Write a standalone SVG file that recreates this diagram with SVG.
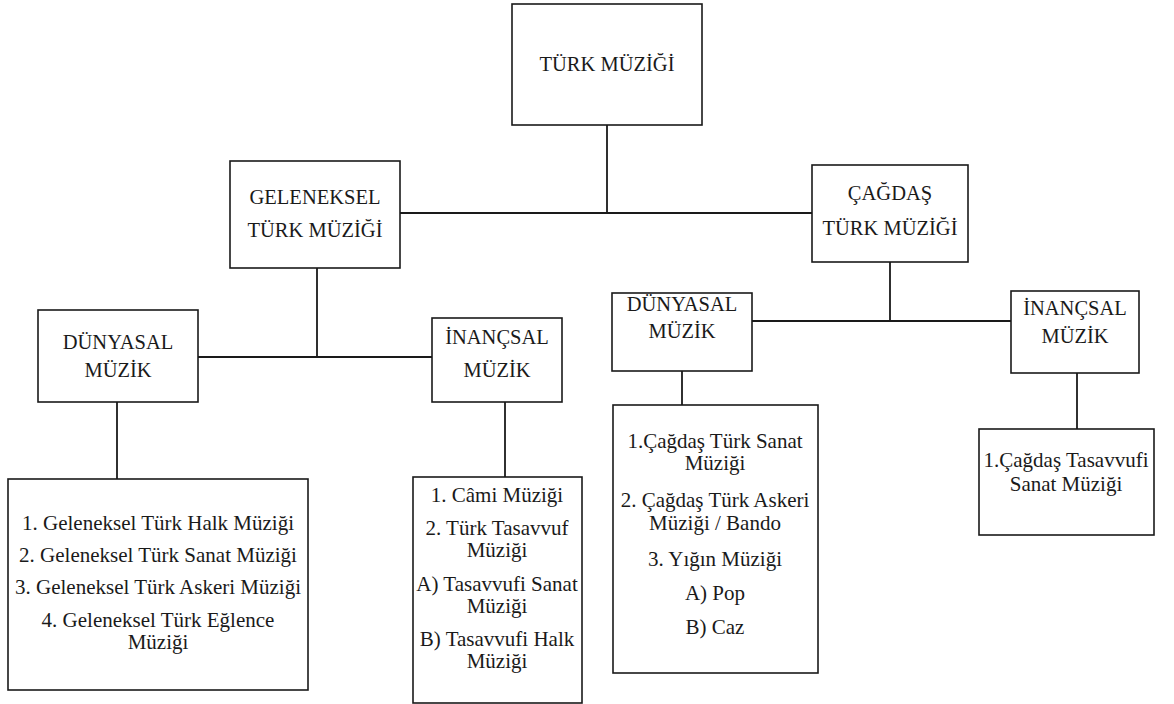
<svg xmlns="http://www.w3.org/2000/svg" width="1174" height="704" viewBox="0 0 1174 704" xml:space="preserve">
<style>
.box{fill:#fff;stroke:#1a1a1a;stroke-width:1.6}
.ln{fill:none;stroke:#1a1a1a;stroke-width:1.8}
.t{font-family:'Liberation Serif','Times New Roman','DejaVu Serif',serif;font-size:20.5px;fill:#1a1a1a;text-anchor:middle;white-space:pre}
.l{font-size:21px}
</style>
<rect width="1174" height="704" fill="#fff"/>
<g id="connectors">
<path class="ln" d="M607,125 V213 M400,213 H812"/>
<path class="ln" d="M317,268 V357 M198,357 H432"/>
<path class="ln" d="M890,262 V321 M752,321 H1011"/>
<path class="ln" d="M117,402 V479"/>
<path class="ln" d="M505,402 V477"/>
<path class="ln" d="M682,371 V405"/>
<path class="ln" d="M1077,373 V429"/>
</g>
<g class="t">
<g id="turk-muzigi">
<rect class="box" x="512" y="4" width="190" height="121"/>
<text x="607" y="71">TÜRK MÜZİĞİ</text>
</g>
<g id="geleneksel">
<rect class="box" x="230" y="161" width="170" height="107"/>
<text x="315" y="204">GELENEKSEL</text>
<text x="315" y="237">TÜRK MÜZİĞİ</text>
</g>
<g id="cagdas">
<rect class="box" x="812" y="165" width="156" height="97"/>
<text x="890" y="200">ÇAĞDAŞ</text>
<text x="890" y="235">TÜRK MÜZİĞİ</text>
</g>
<g id="dunyasal-1">
<rect class="box" x="38" y="310" width="160" height="92"/>
<text x="118" y="349">DÜNYASAL</text>
<text x="118" y="377">MÜZİK</text>
</g>
<g id="inancsal-1">
<rect class="box" x="432" y="318" width="130" height="84"/>
<text x="497" y="344">İNANÇSAL</text>
<text x="497" y="377">MÜZİK</text>
</g>
<g id="dunyasal-2">
<rect class="box" x="612" y="293" width="140" height="78"/>
<text x="682" y="311">DÜNYASAL</text>
<text x="682" y="338">MÜZİK</text>
</g>
<g id="inancsal-2">
<rect class="box" x="1011" y="291" width="128" height="82"/>
<text x="1075" y="315">İNANÇSAL</text>
<text x="1075" y="343">MÜZİK</text>
</g>
<g id="list-geleneksel-dunyasal" class="l">
<rect class="box" x="8" y="479" width="300" height="211"/>
<text x="158" y="530">1. Geleneksel  Türk Halk Müziği</text>
<text x="158" y="562">2. Geleneksel  Türk Sanat Müziği</text>
<text x="158" y="594">3. Geleneksel  Türk Askeri Müziği</text>
<text x="158" y="627">4. Geleneksel  Türk Eğlence</text>
<text x="158" y="649">Müziği</text>
</g>
<g id="list-geleneksel-inancsal" class="l">
<rect class="box" x="413" y="477" width="169" height="226"/>
<text x="497" y="502">1. Câmi  Müziği</text>
<text x="497" y="535">2. Türk  Tasavvuf</text>
<text x="497" y="557">Müziği</text>
<text x="497" y="591">A) Tasavvufi Sanat</text>
<text x="497" y="613">Müziği</text>
<text x="497" y="646">B)  Tasavvufi Halk</text>
<text x="497" y="668">Müziği</text>
</g>
<g id="list-cagdas-dunyasal" class="l">
<rect class="box" x="613" y="405" width="205" height="268"/>
<text x="715" y="448">1.Çağdaş Türk Sanat</text>
<text x="715" y="470">Müziği</text>
<text x="715" y="507">2. Çağdaş Türk Askeri</text>
<text x="715" y="530">Müziği / Bando</text>
<text x="715" y="566">3. Yığın  Müziği</text>
<text x="715" y="600">A) Pop</text>
<text x="715" y="634">B) Caz</text>
</g>
<g id="list-cagdas-inancsal" class="l">
<rect class="box" x="979" y="429" width="175" height="106"/>
<text x="1066" y="467">1.Çağdaş Tasavvufi</text>
<text x="1066" y="491">Sanat Müziği</text>
</g>
</g>
</svg>
